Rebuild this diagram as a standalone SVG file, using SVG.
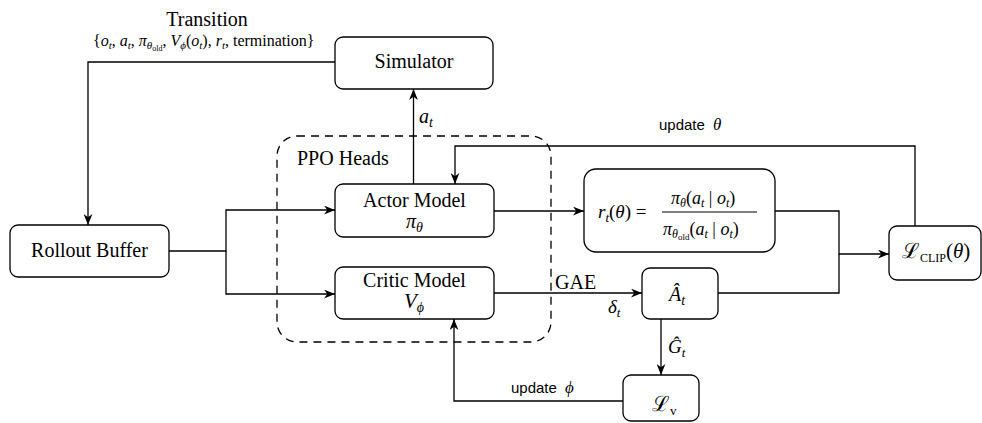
<svg xmlns="http://www.w3.org/2000/svg" width="982" height="423" viewBox="0 0 982 423">
  <style>
    .box { fill: #ffffff; stroke: #000000; stroke-width: 1.3; }
    .edge { fill: none; stroke: #000000; stroke-width: 1.3; }
    .group { fill: none; stroke: #000000; stroke-width: 1.3; stroke-dasharray: 8 6; }
    .lbl { font-family: "Liberation Serif", "Times New Roman", serif; font-size: 20px; fill: #000; }
    .math { font-family: "Liberation Serif", "DejaVu Serif", serif; fill: #000; }
    .it { font-style: italic; }
    .sans { font-family: "Liberation Sans", Arial, sans-serif; font-size: 15px; fill: #000; }
    .cal { font-family: "DejaVu Serif", "Liberation Serif", serif; font-style: normal; }
  </style>
  <defs>
    <marker id="arrow" viewBox="0 0 10 8" refX="10" refY="4" markerWidth="11" markerHeight="9" markerUnits="userSpaceOnUse" orient="auto">
      <path d="M0,0 L10,4 L0,8 L3,4 z" fill="#000"/>
    </marker>
  </defs>

  <!-- dashed grouping of the two heads -->
  <g id="ppo-heads">
    <rect class="group" x="277" y="136" width="274" height="206" rx="20" ry="20"/>
    <text class="lbl" x="297" y="165" font-size="21">PPO Heads</text>
  </g>

  <!-- connectors -->
  <g id="connectors">
    <path class="edge" d="M335,62 H88 V225" marker-end="url(#arrow)"/>
    <path class="edge" d="M413.5,184 V89" marker-end="url(#arrow)"/>
    <path class="edge" d="M169,251 H226 V210 H335" marker-end="url(#arrow)"/>
    <path class="edge" d="M226,251 V294 H335" marker-end="url(#arrow)"/>
    <path class="edge" d="M494,211 H584" marker-end="url(#arrow)"/>
    <path class="edge" d="M915,226 V146 H455 V184" marker-end="url(#arrow)"/>
    <path class="edge" d="M775,211 H839 V254 H889" marker-end="url(#arrow)"/>
    <path class="edge" d="M718,293 H839 V254"/>
    <path class="edge" d="M494,293 H642" marker-end="url(#arrow)"/>
    <path class="edge" d="M661,319 V375" marker-end="url(#arrow)"/>
    <path class="edge" d="M623,401 H454 V319" marker-end="url(#arrow)"/>

    <!-- edge labels -->
    <text class="lbl" x="207" y="26" text-anchor="middle">Transition</text>
    <text class="math" x="93" y="46" font-size="16">{<tspan class="it">o</tspan><tspan class="it" font-size="11" dy="3">t</tspan><tspan dy="-3">, </tspan><tspan class="it">a</tspan><tspan class="it" font-size="11" dy="3">t</tspan><tspan dy="-3">, </tspan><tspan class="it">π</tspan><tspan class="it" font-size="11" dy="3">θ</tspan><tspan font-size="8" dy="2">old</tspan><tspan dy="-5">, </tspan><tspan class="it">V</tspan><tspan class="it" font-size="11" dy="3">ϕ</tspan><tspan dy="-3">(</tspan><tspan class="it">o</tspan><tspan class="it" font-size="11" dy="3">t</tspan><tspan dy="-3">), </tspan><tspan class="it">r</tspan><tspan class="it" font-size="11" dy="3">t</tspan><tspan dy="-3">, termination}</tspan></text>
    <text class="math it" x="419" y="123" font-size="20">a<tspan font-size="14" dy="4">t</tspan></text>
    <text class="sans" x="659" y="130">update <tspan class="math it" font-size="17" dx="4">θ</tspan></text>
    <text class="lbl" x="555" y="289" font-size="17">GAE</text>
    <text class="math it" x="608" y="313" font-size="19">δ<tspan font-size="13" dy="4">t</tspan></text>
    <text class="math it" x="668" y="353" font-size="19">Ĝ<tspan font-size="13" dy="4">t</tspan></text>
    <text class="sans" x="511" y="393">update <tspan class="math it" font-size="17" dx="4">ϕ</tspan></text>
  </g>

  <!-- nodes -->
  <g id="simulator">
    <rect class="box" x="335" y="37" width="158" height="52" rx="8" ry="8"/>
    <text class="lbl" x="414" y="68" text-anchor="middle">Simulator</text>
  </g>

  <g id="rollout-buffer">
    <rect class="box" x="10" y="225" width="159" height="52" rx="8" ry="8"/>
    <text class="lbl" x="89.5" y="257" text-anchor="middle">Rollout Buffer</text>
  </g>

  <g id="actor-model">
    <rect class="box" x="335" y="184" width="159" height="53" rx="8" ry="8"/>
    <text class="lbl" x="414.5" y="207" text-anchor="middle">Actor Model</text>
    <text class="math it" x="406" y="228" font-size="20">π<tspan font-size="14" dy="4">θ</tspan></text>
  </g>

  <g id="critic-model">
    <rect class="box" x="335" y="267" width="159" height="52" rx="8" ry="8"/>
    <text class="lbl" x="414.5" y="287" text-anchor="middle">Critic Model</text>
    <text class="math it" x="404" y="308" font-size="21">V<tspan font-size="14" dy="4">ϕ</tspan></text>
  </g>

  <g id="ratio">
    <rect class="box" x="584" y="169" width="191" height="83" rx="12" ry="12"/>
    <text class="math" x="598" y="218" font-size="19"><tspan class="it">r</tspan><tspan class="it" font-size="13" dy="4">t</tspan><tspan dy="-4">(</tspan><tspan class="it">θ</tspan><tspan>) = </tspan></text>
    <line x1="662" y1="212" x2="757" y2="212" stroke="#000" stroke-width="1"/>
    <text class="math" x="671" y="204" font-size="18"><tspan class="it">π</tspan><tspan class="it" font-size="12" dy="3">θ</tspan><tspan dy="-3">(</tspan><tspan class="it">a</tspan><tspan class="it" font-size="12" dy="3">t</tspan><tspan dy="-3"> | </tspan><tspan class="it">o</tspan><tspan class="it" font-size="12" dy="3">t</tspan><tspan dy="-3">)</tspan></text>
    <text class="math" x="663" y="235" font-size="18"><tspan class="it">π</tspan><tspan class="it" font-size="12" dy="3">θ</tspan><tspan font-size="9" dy="2">old</tspan><tspan dy="-5">(</tspan><tspan class="it">a</tspan><tspan class="it" font-size="12" dy="3">t</tspan><tspan dy="-3"> | </tspan><tspan class="it">o</tspan><tspan class="it" font-size="12" dy="3">t</tspan><tspan dy="-3">)</tspan></text>
  </g>

  <g id="advantage">
    <rect class="box" x="642" y="268" width="76" height="51" rx="8" ry="8"/>
    <text class="math it" x="669" y="301" font-size="20">Â<tspan font-size="14" dy="4">t</tspan></text>
  </g>

  <g id="clip-loss">
    <rect class="box" x="889" y="226" width="92" height="54" rx="8" ry="8"/>
    <text class="math" x="902" y="258" font-size="21"><tspan class="cal">ℒ</tspan><tspan font-size="12" dy="4">CLIP</tspan><tspan dy="-4">(</tspan><tspan class="it">θ</tspan><tspan>)</tspan></text>
  </g>

  <g id="value-loss">
    <rect class="box" x="623" y="375" width="76" height="46" rx="8" ry="8"/>
    <text class="math" x="652" y="411" font-size="21"><tspan class="cal">ℒ</tspan><tspan font-size="13" dy="4">v</tspan></text>
  </g>
</svg>
